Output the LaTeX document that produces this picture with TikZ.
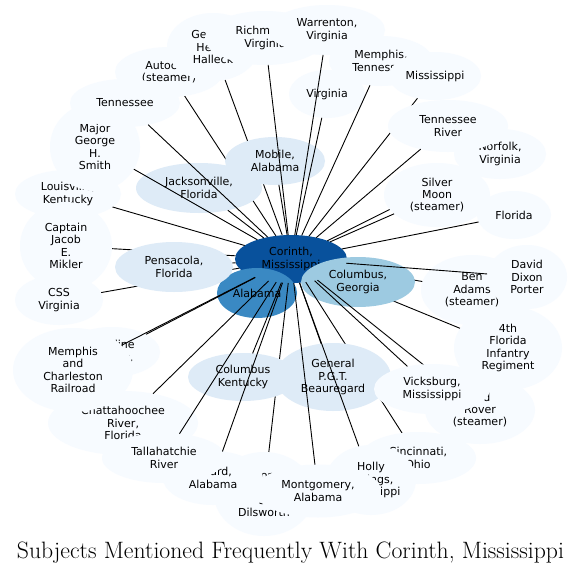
\documentclass[tikz,border=0pt]{standalone}
\usepackage{fontspec}
\usepackage{graphicx}
\newfontfamily\labfont{DejaVu Sans}
\usetikzlibrary{shapes.geometric}
\pgfdeclarelayer{lA}
\pgfdeclarelayer{lB}
\pgfdeclarelayer{lC}
\pgfdeclarelayer{lD}
\pgfdeclarelayer{lE}
\pgfdeclarelayer{lF}
\pgfsetlayers{lA,lB,lC,lD,lE,lF,main}
\definecolor{cCor}{HTML}{08519C}
\definecolor{cAla}{HTML}{3A89C3}
\definecolor{cColGA}{HTML}{9DCAE1}
\definecolor{cMid}{HTML}{DEEBF7}
\definecolor{cOut}{HTML}{F7FBFF}
\tikzset{
  nd/.style={ellipse, inner sep=0pt, outer sep=0pt, align=center, draw=none,
    font=\labfont\fontsize{11}{12.3}\selectfont, text=black},
  ed/.style={line width=0.9pt, black},
}
\begin{document}
\begin{tikzpicture}[x=1pt,y=-1pt]
\useasboundingbox (0,0) rectangle (581,573);
\begin{pgfonlayer}{lA}
\fill[white] (0,0) rectangle (581,573);
\node[nd,fill=cCor,minimum width=112pt,minimum height=48pt] (cor) at (291,259) {Corinth,\\Mississippi};
\node[nd,fill=cAla,minimum width=80pt,minimum height=50pt] (ala) at (257,293) {Alabama};
\end{pgfonlayer}
\begin{pgfonlayer}{lC}
\node[nd,fill=cColGA,minimum width=114pt,minimum height=50pt] (colga) at (358,282) {Columbus,\\Georgia};
\node[nd,fill=cMid,minimum width=126pt,minimum height=50pt] (jax) at (199,188) {Jacksonville,\\Florida};
\node[nd,fill=cMid,minimum width=100pt,minimum height=48pt] (mob) at (275,161) {Mobile,\\Alabama};
\node[nd,fill=cMid,minimum width=118pt,minimum height=50pt] (pen) at (174,267) {Pensacola,\\Florida};
\end{pgfonlayer}
\begin{pgfonlayer}{lE}
\node[nd,fill=cMid,minimum width=110pt,minimum height=48pt] (colky) at (243,377) {Columbus\\Kentucky};
\node[nd,fill=cMid,minimum width=116pt,minimum height=68pt] (pgt) at (333,377) {General\\P.G.T.\\Beauregard};
\end{pgfonlayer}
\begin{pgfonlayer}{lF}
\node[nd,fill=cOut,minimum width=108pt,minimum height=50pt] (auto) at (169,72) {Autocrat\\(steamer)};
\node[nd,fill=cOut,minimum width=92pt,minimum height=68pt] (hal) at (213,47) {General\\Henry\\Halleck};
\node[nd,fill=cOut,minimum width=120pt,minimum height=54pt] (ric) at (265,38) {Richmond,\\Virginia};
\node[nd,fill=cOut,minimum width=116pt,minimum height=50pt] (war) at (327,30) {Warrenton,\\Virginia};
\node[nd,fill=cOut,minimum width=104pt,minimum height=50pt] (mem) at (381,61) {Memphis,\\Tennessee};
\node[nd,fill=cOut,minimum width=76pt,minimum height=48pt] (vir) at (327,94) {Virginia};
\node[nd,fill=cOut,minimum width=92pt,minimum height=48pt] (mis) at (435,76) {Mississippi};
\node[nd,fill=cOut,minimum width=92pt,minimum height=50pt] (nor) at (500,154) {Norfolk,\\Virginia};
\node[nd,fill=cOut,minimum width=120pt,minimum height=52pt] (tnr) at (448,126) {Tennessee\\River};
\node[nd,fill=cOut,minimum width=106pt,minimum height=64pt] (sil) at (437,195) {Silver\\Moon\\(steamer)};
\node[nd,fill=cOut,minimum width=74pt,minimum height=48pt] (fla) at (514,215) {Florida};
\node[nd,fill=cOut,minimum width=108pt,minimum height=84pt] (fourth) at (508,348) {4th\\Florida\\Infantry\\Regiment};
\node[nd,fill=cOut,minimum width=102pt,minimum height=70pt] (ben) at (472,290) {Ben\\Adams\\(steamer)};
\node[nd,fill=cOut,minimum width=80pt,minimum height=64pt] (ddp) at (527,277) {David\\Dixon\\Porter};
\node[nd,fill=cOut,minimum width=110pt,minimum height=68pt] (red) at (480,410) {Red\\Rover\\(steamer)};
\node[nd,fill=cOut,minimum width=116pt,minimum height=50pt] (vic) at (432,389) {Vicksburg,\\Mississippi};
\node[nd,fill=cOut,minimum width=116pt,minimum height=52pt] (cin) at (418,458) {Cincinnati,\\Ohio};
\node[nd,fill=cOut,minimum width=90pt,minimum height=70pt] (hol) at (371,480) {Holly\\Springs,\\Mississippi};
\node[nd,fill=cOut,minimum width=100pt,minimum height=84pt] (dil) at (264,494) {Colonel\\W.\\S.\\Dilsworth};
\node[nd,fill=cOut,minimum width=126pt,minimum height=53pt] (mon) at (318,491) {Montgomery,\\Alabama};
\node[nd,fill=cOut,minimum width=100pt,minimum height=54pt] (gir) at (213,478) {Girard,\\Alabama};
\node[nd,fill=cOut,minimum width=96pt,minimum height=50pt] (car) at (112,352) {Caroline\\County,};
\node[nd,fill=cOut,minimum width=150pt,minimum height=64pt] (cha) at (123,423) {Chattahoochee\\River,\\Florida};
\node[nd,fill=cOut,minimum width=124pt,minimum height=50pt] (tal) at (164,458) {Tallahatchie\\River};
\node[nd,fill=cOut,minimum width=120pt,minimum height=84pt] (mcr) at (73,370) {Memphis\\and\\Charleston\\Railroad};
\node[nd,fill=cOut,minimum width=106pt,minimum height=48pt] (lou) at (68,194) {Louisville,\\Kentucky};
\node[nd,fill=cOut,minimum width=90pt,minimum height=88pt] (smi) at (95,147) {Major\\George\\H.\\Smith};
\node[nd,fill=cOut,minimum width=110pt,minimum height=48pt] (ten) at (125,103) {Tennessee};
\node[nd,fill=cOut,minimum width=92pt,minimum height=88pt] (mik) at (66,246) {Captain\\Jacob\\E.\\Mikler};
\node[nd,fill=cOut,minimum width=88pt,minimum height=50pt] (css) at (59,300) {CSS\\Virginia};
\end{pgfonlayer}
% edges partly hidden by inner nodes
\begin{pgfonlayer}{lB}
\draw[ed] (cor) -- (ben);
\draw[ed] (cor) -- (fourth);
\draw[ed] (cor) -- (auto);
\draw[ed] (cor) -- (hal);
\draw[ed] (cor) -- (mik);
\draw[ed] (cor) -- (css);
\draw[ed] (cor) -- (pen);
\end{pgfonlayer}
\begin{pgfonlayer}{lD}
\draw[ed] (cor) -- (nor);
\draw[ed] (cor) -- (mis);
\draw[ed] (cor) -- (red);
\draw[ed] (cor) -- (cin);
\draw[ed] (cor) -- (dil);
\end{pgfonlayer}
% edges on top
\draw[ed] (cor) -- (ric);
\draw[ed] (cor) -- (war);
\draw[ed] (cor) -- (vir);
\draw[ed] (cor) -- (mem);
\draw[ed] (cor) -- (tnr);
\draw[ed] (cor) -- (sil);
\draw[ed] (cor) -- (fla);
\draw[ed] (cor) -- (ddp);
\draw[ed] (cor) -- (vic);
\draw[ed] (cor) -- (hol);
\draw[ed] (cor) -- (mon);
\draw[ed] (cor) -- (gir);
\draw[ed] (cor) -- (tal);
\draw[ed] (cor) -- (cha);
\draw[ed] (cor) -- (mcr);
\draw[ed] (cor) -- (car);
\draw[ed] (cor) -- (colky);
\draw[ed] (cor) -- (pgt);
\draw[ed] (cor) -- (mob);
\draw[ed] (cor) -- (jax);
\draw[ed] (cor) -- (ten);
\draw[ed] (cor) -- (smi);
\draw[ed] (cor) -- (lou);
\node[anchor=base, inner sep=0pt, font=\fontsize{21.5}{25}\selectfont] (title) at (290.5,558)
  {\resizebox{547pt}{!}{Subjects Mentioned Frequently With Corinth, Mississippi}};
\end{tikzpicture}
\end{document}
